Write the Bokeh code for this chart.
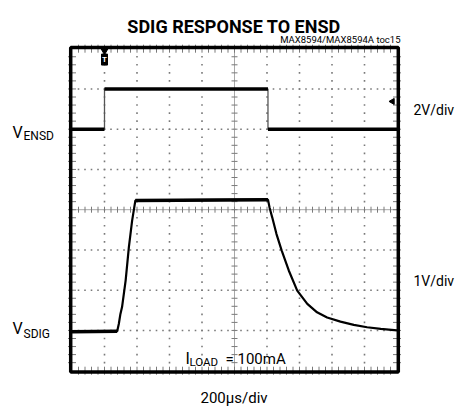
import numpy as np
from bokeh.plotting import figure
from bokeh.models import Range1d
from bokeh.embed import file_html
from bokeh.resources import INLINE
from bokeh.core.properties import value

# ---------------- data (time in divisions of 200us, level in screen divisions) ----------
title_text = "SDIG RESPONSE TO ENSD"
subtitle_text = "MAX8594/MAX8594A toc15"
x_divs = 10
y_divs = 8

ensd_t = [0.0, 1.0, 1.0, 6.03, 6.03, 10.0]
ensd_v = [6.0, 6.0, 7.0, 7.0, 6.0, 6.0]

sdig_t = [0.0, 1.39, 1.44, 1.49, 1.54, 1.65, 1.75, 1.85, 1.95, 6.03, 6.08, 6.16,
          6.29, 6.45, 6.67, 6.93, 7.24, 7.54, 7.85, 8.26, 8.67, 9.08, 9.5, 10.0]
sdig_v = [0.97, 0.98, 1.16, 1.41, 1.58, 2.24, 3.07, 3.73, 4.23, 4.25, 4.05, 3.81,
          3.40, 2.99, 2.49, 1.99, 1.66, 1.45, 1.32, 1.22, 1.14, 1.08, 1.04, 1.0]

trigger_t = [1.0]
ensd_marker_v = [6.69]

FONT = "Roboto"

# picture-pixel -> division mapping helpers (layout only)
X0, XS = 71.5, 32.5
Y0, YS = 370.2, 40.25


def px_x(px):
    return (px - X0) / XS


def px_y(py):
    return (Y0 - py) / YS


W, H = 460, 408
p = figure(width=W, height=H, output_backend="svg", toolbar_location=None,
           x_range=Range1d(px_x(0), px_x(W)), y_range=Range1d(px_y(H), px_y(0)),
           min_border=0)
p.axis.visible = False
p.grid.visible = False
p.outline_line_color = None
p.background_fill_color = "white"
p.border_fill_color = "white"

grid_col = "#7a7a7a"

# dotted grid lines
gx, gy = [], []
fine_x = np.arange(1, x_divs * 5) / 5.0
fine_y = np.arange(1, y_divs * 5) / 5.0
for xv in range(1, x_divs):
    if xv == x_divs // 2:
        continue
    gx += [xv] * len(fine_y)
    gy += list(fine_y)
for yv in range(1, y_divs):
    if yv == y_divs // 2:
        continue
    gx += list(fine_x)
    gy += [yv] * len(fine_x)
p.scatter(gx, gy, marker="square", size=1.6, line_color=None, fill_color=grid_col)

# centre cross lines with ticks
p.segment(x0=[0, x_divs / 2], y0=[y_divs / 2, 0], x1=[x_divs, x_divs / 2], y1=[y_divs / 2, y_divs],
          line_color="#a8a8a8", line_width=1)
p.scatter(list(fine_x), [y_divs / 2] * len(fine_x), marker="dash", angle=np.pi / 2, size=6,
          line_color=grid_col, line_width=1)
p.scatter([x_divs / 2] * len(fine_y), list(fine_y), marker="dash", size=6,
          line_color=grid_col, line_width=1)

# edge ticks
p.scatter(list(fine_x), [0] * len(fine_x), marker="dash", angle=np.pi / 2, size=8, line_color=grid_col)
p.scatter(list(fine_x), [y_divs] * len(fine_x), marker="dash", angle=np.pi / 2, size=8, line_color=grid_col)
p.scatter([0] * len(fine_y), list(fine_y), marker="dash", size=8, line_color=grid_col)
p.scatter([x_divs] * len(fine_y), list(fine_y), marker="dash", size=8, line_color=grid_col)

# scope frame
p.quad(left=[-0.04], right=[x_divs + 0.04], bottom=[-0.03], top=[y_divs + 0.03],
       fill_color=None, line_color="black", line_width=3.5)


def flats(t, v):
    xs, ys = [], []
    for i in range(len(t) - 1):
        if abs(v[i + 1] - v[i]) < 0.05 and (t[i + 1] - t[i]) > 0.5:
            xs.append([t[i], t[i + 1]])
            ys.append([v[i], v[i + 1]])
    return xs, ys

# traces
p.line(ensd_t, ensd_v, line_color="#555555", line_width=1.3)
fx, fy = flats(ensd_t, ensd_v)
p.multi_line(fx, fy, line_color="black", line_width=3.5)

p.line(sdig_t, sdig_v, line_color="black", line_width=2.2)
fx, fy = flats(sdig_t, sdig_v)
p.multi_line(fx, fy, line_color="black", line_width=3.5)

# trigger marker and level marker
p.scatter(trigger_t, [y_divs - 0.05], marker="inverted_triangle", size=7, fill_color="black", line_color="black")
p.rect(trigger_t, [y_divs - 0.27], width=6, height=11, width_units="screen", height_units="screen",
       fill_color="black", line_color="black")
p.text(trigger_t, [y_divs - 0.27], text=["T"], text_color="white", text_font_size="8px",
       text_font=value(FONT), text_font_style="bold", text_align="center", text_baseline="middle")
p.scatter([x_divs - 0.14], ensd_marker_v, marker="triangle", angle=np.pi / 2, size=6,
          fill_color="black", line_color="black")


def lab(x, y, text, size, align="left", style="normal"):
    p.text([x], [y], text=[text], text_font=value(FONT), text_font_size=size,
           text_align=align, text_baseline="alphabetic", text_font_style=style,
           text_color="black")


lab(px_x(233.5), px_y(25.5), title_text, "18px", align="center", style="bold")
lab(px_x(400), px_y(38.5), subtitle_text, "9.5px", align="right")

lab(px_x(12), px_y(132), "V", "16px")
lab(px_x(23), px_y(135), "ENSD", "12px")
lab(px_x(12), px_y(328), "V", "16px")
lab(px_x(23), px_y(333), "SDIG", "12px")

lab(px_x(413), px_y(109), "2V/div", "14px")
lab(px_x(413), px_y(280), "1V/div", "14px")

lab(px_x(185), px_y(358), "I", "16px")
lab(px_x(189), px_y(361), "LOAD", "11.5px")
lab(px_x(225), px_y(358), "= 100mA", "15px")

lab(px_x(233.5), px_y(397), "200\u03bcs/div", "15px", align="center")

open("out.html", "w").write(file_html(p, INLINE))
